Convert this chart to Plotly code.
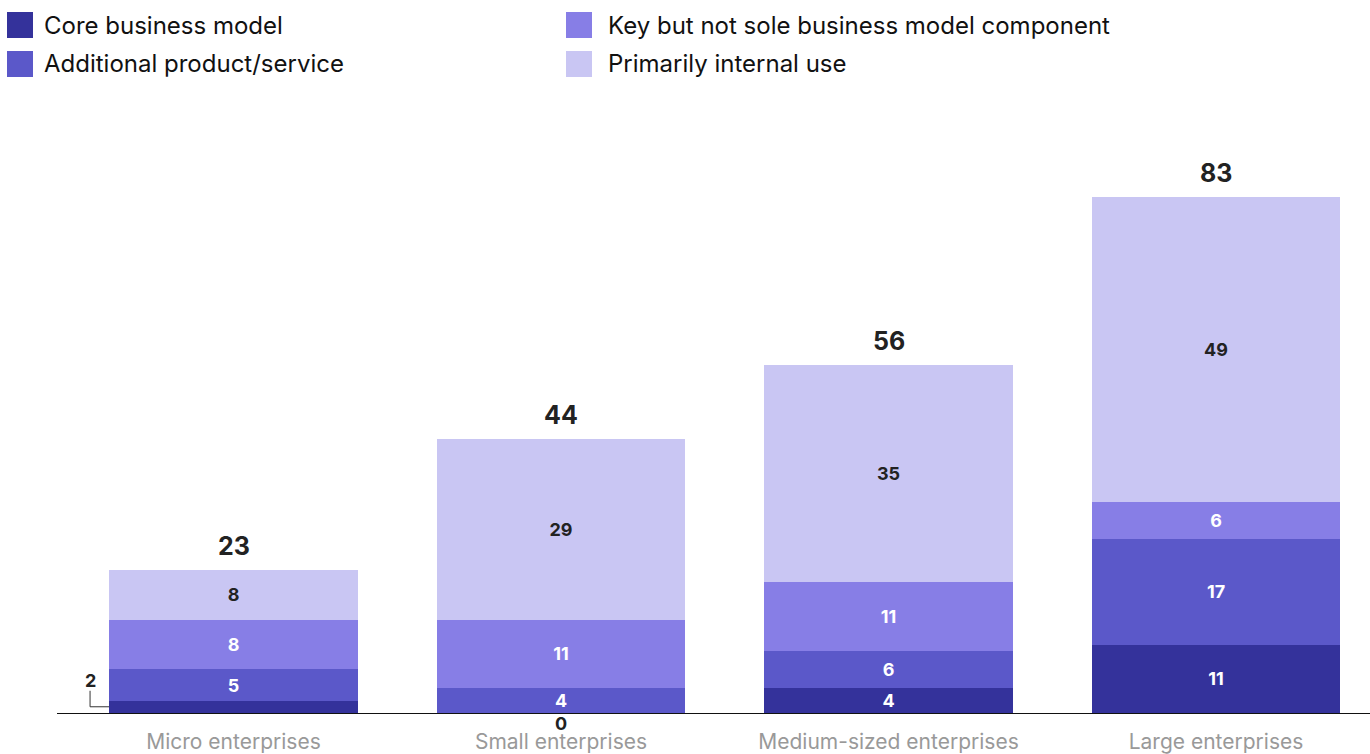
import plotly.graph_objects as go

categories = ["Micro enterprises", "Small enterprises", "Medium-sized enterprises", "Large enterprises"]
series_names = ["Core business model", "Additional product/service",
                "Key but not sole business model component", "Primarily internal use"]
core = [2, 0, 4, 11]
additional = [5, 4, 6, 17]
key_component = [8, 11, 11, 6]
internal = [8, 29, 35, 49]
totals = [23, 44, 56, 83]

colors = ["#34329B", "#5B58C9", "#877EE6", "#C9C6F3"]
text_colors = ["#FFFFFF", "#FFFFFF", "#FFFFFF", "#222222"]
FONT = "Inter, sans-serif"

W, H = 1370, 754
L, R, T, B = 57, 1370, 110, 713
BAR_W = 0.76


def px_x(p):
    return (p - L) / (R - L)


def px_y(p):
    return (B - p) / (B - T)


fig = go.Figure()
xs = list(range(len(categories)))
all_series = [core, additional, key_component, internal]

for name, vals, col, tcol in zip(series_names, all_series, colors, text_colors):
    labels = [str(v) if v >= 3 else "" for v in vals]
    fig.add_trace(go.Bar(
        x=xs, y=vals, name=name, width=BAR_W,
        marker=dict(color=col, line=dict(width=0)),
        text=labels, textposition="inside", insidetextanchor="middle",
        textangle=0, constraintext="none",
        textfont=dict(family=FONT, size=18, color=tcol, weight="bold"),
        showlegend=False, hoverinfo="skip",
    ))

annotations = []
shapes = []

# totals above bars
for i, t in enumerate(totals):
    annotations.append(dict(
        x=i, y=t, xref="x", yref="y", text=f"<b>{t}</b>", showarrow=False,
        yanchor="bottom", yshift=7,
        font=dict(family=FONT, size=25, color="#222222"),
    ))

# small core values
for i, v in enumerate(core):
    if v == 0:
        annotations.append(dict(
            x=i, y=0, xref="x", yref="y", text=f"<b>{v}</b>", showarrow=False,
            yanchor="top", yshift=2,
            font=dict(family=FONT, size=18, color="#222222"),
        ))
    elif v < 3:
        xl = i - BAR_W / 2 - 0.058
        annotations.append(dict(
            x=xl, y=v / 2, xref="x", yref="y", text=f"<b>{v}</b>", showarrow=False,
            yanchor="middle", yshift=26,
            font=dict(family=FONT, size=18, color="#222222"),
        ))
        shapes.append(dict(type="line", xref="x", yref="y", x0=xl, x1=xl,
                           ysizemode="pixel", yanchor=v / 2, y0=0, y1=16,
                           line=dict(color="#333333", width=1)))
        shapes.append(dict(type="line", xref="x", yref="y", x0=xl, x1=i - BAR_W / 2,
                           y0=v / 2, y1=v / 2,
                           line=dict(color="#333333", width=1)))

# manual legend (column-major, 2 columns)
col_x = [7, 566]
text_x = [42, 606]
row_y = [25, 64]
SQ = 26
for idx, (name, col) in enumerate(zip(series_names, colors)):
    c, r = idx // 2, idx % 2
    x0 = col_x[c]
    yc = row_y[r]
    shapes.append(dict(type="rect", xref="paper", yref="paper",
                       x0=px_x(x0), x1=px_x(x0 + SQ),
                       y0=px_y(yc + SQ / 2), y1=px_y(yc - SQ / 2),
                       fillcolor=col, line=dict(width=0)))
    annotations.append(dict(
        x=px_x(text_x[c]), y=px_y(yc), xref="paper", yref="paper",
        text=name, showarrow=False, xanchor="left", yanchor="middle",
        font=dict(family=FONT, size=24, color="#111111"),
    ))

fig.update_layout(
    width=W, height=H,
    margin=dict(l=L, r=W - R, t=T, b=H - B, autoexpand=False),
    barmode="stack", bargap=0.24,
    paper_bgcolor="white", plot_bgcolor="white",
    uniformtext=dict(mode="show", minsize=17),
    annotations=annotations, shapes=shapes,
    showlegend=False,
    xaxis=dict(
        tickmode="array", tickvals=xs, ticktext=categories,
        range=[(L - 233.5) / 327.5, (R - 233.5) / 327.5],
        showline=True, linecolor="#111111", linewidth=1,
        ticks="", showgrid=False, zeroline=False, automargin=False,
        tickfont=dict(family=FONT, size=21, color="#999999"),
        ticklabelstandoff=10,
    ),
    yaxis=dict(
        range=[0, (B - T) / 6.22], visible=False, showgrid=False, zeroline=False,
    ),
)

fig.write_html("out.html")
